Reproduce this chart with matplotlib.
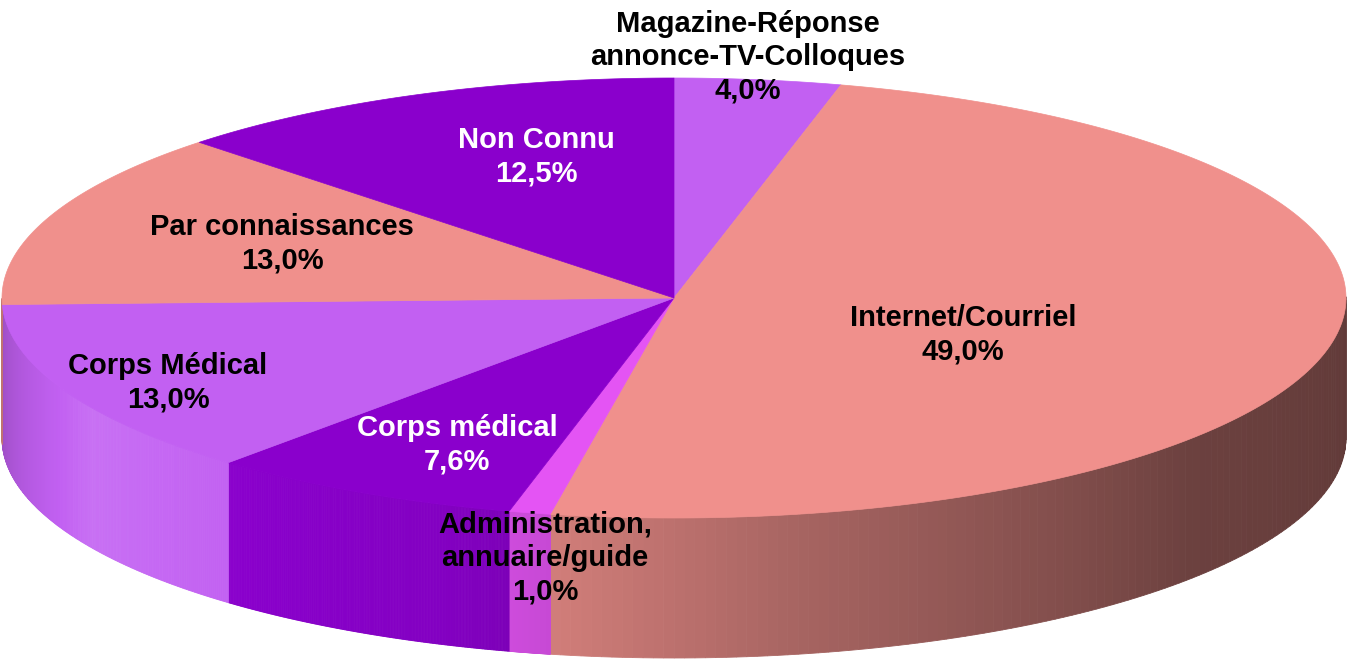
import numpy as np
import matplotlib
matplotlib.use("Agg")
import matplotlib.pyplot as plt
from matplotlib.colors import to_rgb

labels = ["Magazine-Réponse\nannonce-TV-Colloques\n4,0%", "Internet/Courriel\n49,0%",
          "Administration,\nannuaire/guide\n1,0%", "Corps médical\n7,6%",
          "Corps Médical\n13,0%", "Par connaissances\n13,0%", "Non Connu\n12,5%"]
values = [4.0, 49.0, 1.0, 7.6, 13.0, 13.0, 12.5]
colors = ["#C260F2", "#F0908C", "#E454F4", "#8A00CC", "#C260F2", "#F0908C", "#8A00CC"]
text_colors = ["black", "black", "black", "white", "black", "black", "white"]
label_pos = [(748, 57), (963, 335), (545, 558), (457, 445), (168, 383), (282, 244), (536, 157)]

cx, cy, rx, ry, d = 674, 298, 672, 220, 140

fig = plt.figure(figsize=(13.49, 6.59), dpi=100)
ax = fig.add_axes([0, 0, 1, 1])
ax.set_xlim(0, 1349); ax.set_ylim(659, 0); ax.axis("off")

def pt(t):
    return cx + rx*np.cos(t), cy - ry*np.sin(t)

total = sum(values)
bounds = [0]
for v in values:
    bounds.append(bounds[-1] + v/total)
angles = [np.deg2rad(90 - 360*b) for b in bounds]

# side walls
key_t = [-180, -150, -110, -80, -40, 0]
key_f = [0.8, 1.05, 0.95, 0.7, 0.45, 0.4]
for i in range(len(values)):
    t0, t1 = angles[i], angles[i+1]
    ts = np.linspace(t0, t1, 200)
    base = np.array(to_rgb(colors[i]))
    for a, b in zip(ts[:-1], ts[1:]):
        m = (a+b)/2
        md = np.rad2deg(m)
        md = (md + 180) % 360 - 180
        if np.sin(m) >= 0:
            continue
        f = np.interp(md, key_t, key_f)
        c = np.clip(base*f if f <= 1 else base + (1-base)*(f-1)*2, 0, 1)
        xa, ya = pt(a); xb, yb = pt(b)
        ax.fill([xa, xb, xb, xa], [ya, yb, yb+d, ya+d], color=c, lw=0.6, ec=c)

# top faces
for i in range(len(values)):
    ts = np.linspace(angles[i], angles[i+1], 300)
    xs, ys = pt(ts)
    ax.fill(np.r_[cx, xs], np.r_[cy, ys], color=colors[i], lw=0.5, ec=colors[i])

for lab, (x, y), tc in zip(labels, label_pos, text_colors):
    ax.text(x, y, lab, ha="center", va="center", fontsize=21, fontweight="bold",
            color=tc, family="Liberation Sans", linespacing=1.25)

fig.savefig("out.png", dpi=100)
